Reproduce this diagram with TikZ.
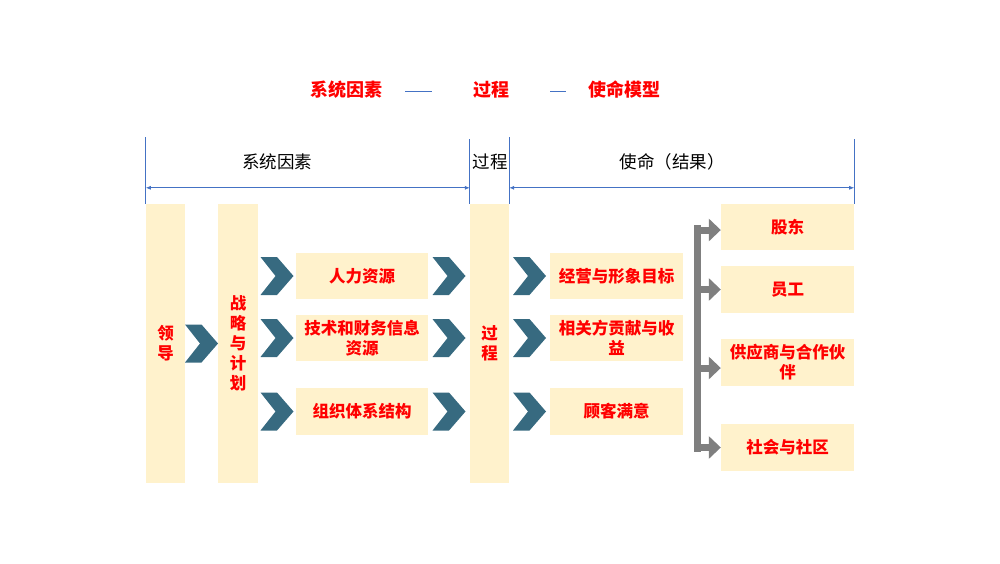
\documentclass[tikz,border=0pt]{standalone}
\usepackage{fontspec}
\setmainfont{Noto Sans CJK SC}
\usetikzlibrary{arrows.meta,calc}
\definecolor{boxfill}{HTML}{FFF2CC}
\definecolor{chevc}{HTML}{376A80}
\definecolor{lineblue}{HTML}{4472C4}
\definecolor{garrowc}{HTML}{7F7F7F}
\definecolor{redtxt}{HTML}{FF0000}
\begin{document}
\begin{tikzpicture}[x=1pt,y=-1pt,
  box/.style={draw=none,fill=boxfill,inner sep=0pt,align=center,text=redtxt,
    font=\fontsize{16.5}{20}\selectfont\bfseries},
  vbox/.style={box,minimum width=39pt,minimum height=279pt},
  hbox/.style={box,minimum width=133pt,minimum height=46pt},
  hdr/.style={font=\fontsize{17.5}{21}\selectfont,text=black,inner sep=0pt},
  ttl/.style={font=\fontsize{18}{22}\selectfont\bfseries,text=redtxt,inner sep=0pt},
  garrow/.style={draw=garrowc,line width=7pt,-{Triangle[length=12pt,width=22pt]}},
  chev/.pic={\fill[chevc] (-16.5,-19) -- (0,-19) -- (16.5,0) -- (0,19) -- (-16.5,19) -- (-1.5,0) -- cycle;}
]
\useasboundingbox (0,0) rectangle (1000,563);
% title
\node[ttl] (t1) at (346,90) {系统因素};
\node[ttl] (t2) at (491,90) {过程};
\node[ttl] (t3) at (624.5,90) {使命模型};
\coordinate (l1a) at (405,91); \coordinate (l1b) at (432,91);
\coordinate (l2a) at (550,91); \coordinate (l2b) at (566,91);
\draw[lineblue,line width=0.8pt] (l1a) -- (l1b);
\draw[lineblue,line width=0.8pt] (l2a) -- (l2b);
% boxes
\node[vbox,minimum width=39pt] (lead) at (165.5,343.5) {领\\导};
\node[vbox,minimum width=40pt] (strat) at (238,343.5) {战\\略\\与\\计\\划};
\node[hbox,minimum width=132pt] (hr) at (362,276) {人力资源};
\node[hbox,minimum width=132pt] (tech) at (362,338) {技术和财务信息\\资源};
\node[hbox,minimum width=132pt,minimum height=47pt] (org) at (362,411.5) {组织体系结构};
\node[vbox] (proc) at (489.5,343.5) {过\\程};
\node[hbox] (goal) at (616.5,276) {经营与形象目标};
\node[hbox] (contrib) at (616.5,338) {相关方贡献与收\\益};
\node[hbox,minimum height=47pt] (cust) at (616.5,411.5) {顾客满意};
\node[hbox] (sh) at (787.5,227) {股东};
\node[hbox,minimum height=47pt] (emp) at (787.5,289.5) {员工};
\node[hbox,minimum height=47pt] (sup) at (787.5,362.5) {供应商与合作伙\\伴};
\node[hbox,minimum height=47pt] (soc) at (787.5,447.5) {社会与社区};
% header
\draw[lineblue,line width=0.7pt] (lead.north west) -- ++(0,-67);
\draw[lineblue,line width=0.7pt] (proc.north west) -- ++(0,-65);
\draw[lineblue,line width=0.7pt] (proc.north east) -- ++(0,-67);
\draw[lineblue,line width=0.7pt] (sh.north east) -- ++(0,-65);
\draw[lineblue,line width=0.7pt,{Latex[length=5pt,width=4pt]}-{Latex[length=5pt,width=4pt]}]
  ([yshift=16pt]lead.north west) -- ([yshift=16pt]proc.north west);
\draw[lineblue,line width=0.7pt,{Latex[length=5pt,width=4pt]}-{Latex[length=5pt,width=4pt]}]
  ([yshift=16pt]proc.north east) -- ([yshift=16pt]sh.north east);
\node[hdr] (h1) at (277,162) {系统因素};
\node[hdr] (h2) at (490,162) {过程};
\node[hdr] (h3) at (672,162) {使命（结果）};
% chevrons
\pic at ($(lead.east)!0.5!(strat.west)$) {chev};
\foreach \n in {hr,tech,org}{
  \pic at ($(strat.east |- \n)!0.5!(\n.west)$) {chev};
  \pic at ($(\n.east)!0.5!(proc.west |- \n)$) {chev};
}
\foreach \n in {goal,contrib,cust}{
  \pic at ($(proc.east |- \n)!0.5!(\n.west)$) {chev};
}
% gray bracket arrows
\coordinate (bartop) at (697,225);
\coordinate (barbot) at (697,452);
\draw[garrowc,line width=7pt] (bartop) -- (barbot);
\draw[garrow] ([yshift=-3pt]sh.west -| bartop) -- ([yshift=-3pt]sh.west);
\draw[garrow] (emp.west -| bartop) -- (emp.west);
\draw[garrow] ([yshift=-5.5pt]sup.west -| bartop) -- ([yshift=-5.5pt]sup.west);
\draw[garrow] (soc.west -| bartop) -- (soc.west);
\end{tikzpicture}
\end{document}
